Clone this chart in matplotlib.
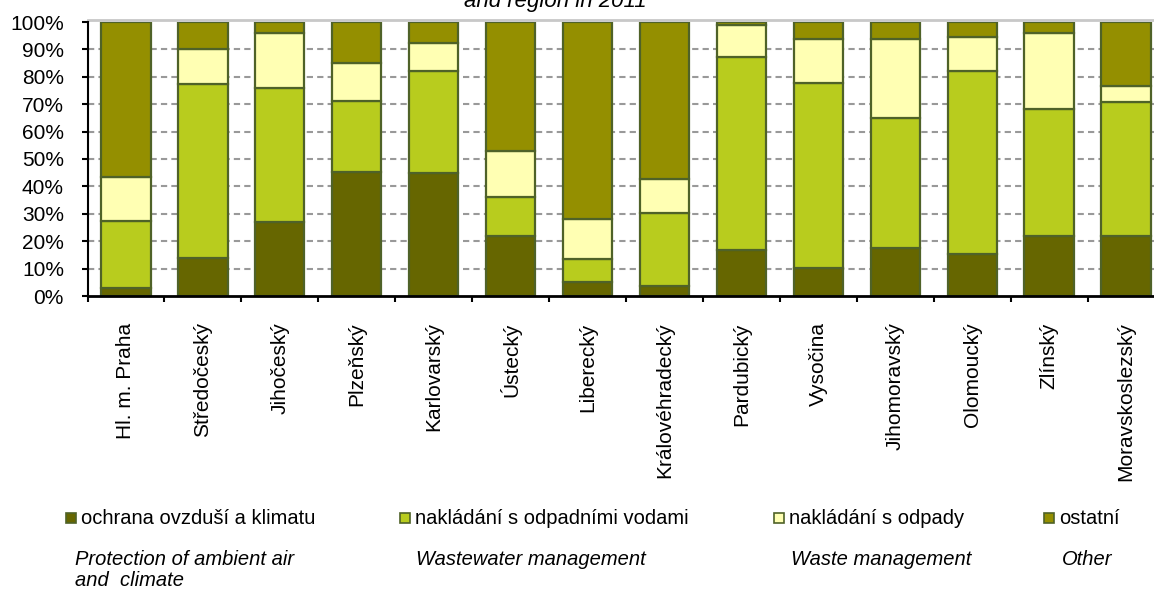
import matplotlib
matplotlib.use("Agg")
import matplotlib.pyplot as plt
from matplotlib.patches import Rectangle
import numpy as np

plt.rcParams['font.family'] = ['Liberation Sans', 'DejaVu Sans']

regions = ["Hl. m. Praha", "Středočeský", "Jihočeský", "Plzeňský", "Karlovarský",
           "Ústecký", "Liberecký", "Královéhradecký", "Pardubický", "Vysočina",
           "Jihomoravský", "Olomoucký", "Zlínský", "Moravskoslezský"]

# shares (%)
air = [3.0, 13.7, 27.1, 45.1, 45.0, 21.8, 5.0, 3.6, 16.8, 10.3, 17.5, 15.5, 21.9, 21.9]
water = [24.5, 63.8, 48.9, 25.9, 37.0, 14.3, 8.6, 26.8, 70.4, 67.3, 47.6, 66.5, 46.2, 49.0]
waste = [15.9, 12.5, 20.0, 14.0, 10.3, 16.8, 14.5, 12.3, 11.8, 16.2, 28.7, 12.5, 27.9, 5.9]
other = [56.6, 10.0, 4.0, 15.0, 7.7, 47.1, 71.9, 57.3, 1.0, 6.2, 6.2, 5.5, 4.0, 23.2]

legend_cz = ["ochrana ovzduší a klimatu", "nakládání s odpadními vodami",
             "nakládání s odpady", "ostatní"]
legend_en = ["Protection of ambient air\nand  climate", "Wastewater management",
             "Waste management", "Other"]
title_text = "and region in 2011"
yticks = [0, 10, 20, 30, 40, 50, 60, 70, 80, 90, 100]

colors = ["#666600", "#B8CC1E", "#FFFFB3", "#948F00"]
edge = "#4F6228"

W, H = 1154, 589
fig = plt.figure(figsize=(W / 100, H / 100), dpi=100)
left, right, bottom, top = 87.5, 1164.5, 296, 22
ax = fig.add_axes([left / W, 1 - bottom / H, (right - left) / W, (bottom - top) / H])

x = np.arange(len(regions))
series = [air, water, waste, other]
base = np.zeros(len(regions))
for vals, c in zip(series, colors):
    v = np.array(vals)
    ax.bar(x, v, bottom=base, width=0.64, color=c, edgecolor=edge, linewidth=1.6, zorder=3)
    base = base + v

ax.set_xlim(-0.5, len(regions) - 0.5)
ax.set_ylim(0, 100)
ax.set_yticks(yticks)
ax.set_yticklabels([f"{t}%" for t in yticks], fontsize=15)
for t in yticks[1:-1]:
    ax.axhline(t, color="#999999", lw=1.5, ls=(0, (3, 2)), zorder=1)
ax.axhline(100.8, color="#C8C8C8", lw=2, zorder=1, clip_on=False)

ax.set_xticks(x)
ax.set_xticklabels(regions, rotation=90, fontsize=15, va="top", ha="center")
ax.set_xticks(np.arange(-0.5, len(regions), 1), minor=True)
ax.tick_params(axis="x", which="major", length=0, pad=19)
ax.tick_params(axis="x", which="minor", length=4, width=1.5, direction="out")
ax.tick_params(axis="y", length=4, width=1.5, direction="out", pad=13)

for s in ["top", "right"]:
    ax.spines[s].set_visible(False)
ax.spines["left"].set_linewidth(1.5)
ax.spines["bottom"].set_linewidth(2)
ax.spines["left"].set_zorder(4)
ax.spines["bottom"].set_zorder(4)

fig.text(555 / W, 1 - 7 / H, title_text, ha="center", va="baseline",
         fontsize=16, style="italic")

leg_x = [66, 400, 774, 1044]
en_x = [75, 416, 791, 1062]
for lx, ex, c, cz, en in zip(leg_x, en_x, colors, legend_cz, legend_en):
    fig.patches.append(Rectangle((lx / W, 1 - 523 / H), 10 / W, 10 / H,
                                 transform=fig.transFigure, facecolor=c,
                                 edgecolor=edge, linewidth=1.2))
    fig.text((lx + 15) / W, 1 - 519 / H, cz, ha="left", va="center", fontsize=14.5)
    fig.text(ex / W, 1 - 550 / H, en, ha="left", va="top", fontsize=14.5,
             style="italic", linespacing=1.12)

fig.savefig("out.png", dpi=100)
